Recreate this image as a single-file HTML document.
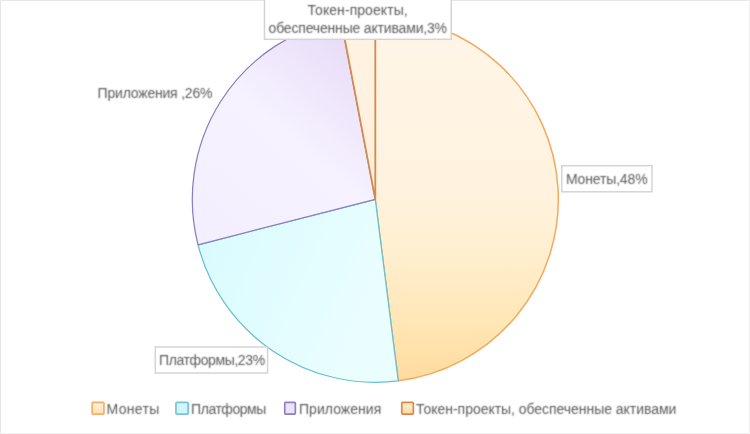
<!DOCTYPE html>
<html>
<head>
<meta charset="utf-8">
<style>
html,body{margin:0;padding:0;background:#fff;}
body{width:750px;height:434px;overflow:hidden;position:relative;}
svg{position:absolute;left:0;top:0;display:block;will-change:transform;}
text{font-family:"Liberation Sans", sans-serif;font-size:14px;fill:#5c5c5c;}
</style>
</head>
<body>
<svg width="750" height="434" viewBox="0 0 750 434">
<defs>
<filter id="tb" x="-5%" y="-30%" width="110%" height="160%"><feConvolveMatrix order="3" kernelMatrix="1 2 1 2 8 2 1 2 1" divisor="20" preserveAlpha="false"/></filter>
<linearGradient id="gM" x1="0" y1="0" x2="0" y2="1">
<stop offset="0" stop-color="#fff6e8"/>
<stop offset="0.48" stop-color="#fff3df"/>
<stop offset="0.65" stop-color="#ffefcf"/>
<stop offset="0.85" stop-color="#ffe6b5"/>
<stop offset="1" stop-color="#ffdb9e"/>
</linearGradient>
<linearGradient id="gP" x1="0" y1="0" x2="1" y2="0.4">
<stop offset="0" stop-color="#d8fbfe"/>
<stop offset="1" stop-color="#ebfeff"/>
</linearGradient>
<linearGradient id="gA" x1="0.85" y1="0" x2="0.15" y2="1">
<stop offset="0" stop-color="#e6d9f7"/>
<stop offset="0.5" stop-color="#f6f2ff"/>
<stop offset="1" stop-color="#f3effe"/>
</linearGradient>
<linearGradient id="gT" x1="0" y1="0" x2="0" y2="1">
<stop offset="0" stop-color="#fff3e3"/>
<stop offset="1" stop-color="#ffefdc"/>
</linearGradient>
<linearGradient id="lM" x1="0" y1="0" x2="0" y2="1">
<stop offset="0" stop-color="#fff2e0"/>
<stop offset="1" stop-color="#ffdfae"/>
</linearGradient>
<linearGradient id="lT" x1="0" y1="0" x2="0" y2="1">
<stop offset="0" stop-color="#ffeed6"/>
<stop offset="1" stop-color="#ffd9a6"/>
</linearGradient>
</defs>
<rect x="0" y="0" width="750" height="434" fill="#fff"/>
<path d="M0.5,434 V0.5 H750" fill="none" stroke="#e6e6e6" stroke-width="1"/>
<path d="M749.5,0 V433.5 H0" fill="none" stroke="#f1f1f1" stroke-width="1"/>
<!-- pie: c=(375.3,199.3) r=183 -->
<path d="M375.3,199.3 L375.3,16.3 A183,183 0 0 1 398.24,380.86 Z" fill="url(#gM)" stroke="#f5a95e" stroke-width="1.5" stroke-linejoin="round"/>
<path d="M375.3,199.3 L398.24,380.86 A183,183 0 0 1 198.05,244.81 Z" fill="url(#gP)" stroke="#68bfd0" stroke-width="1.25" stroke-linejoin="round"/>
<path d="M375.3,199.3 L198.05,244.81 A183,183 0 0 1 341.01,19.54 Z" fill="url(#gA)" stroke="#8a7fbb" stroke-width="1.25" stroke-linejoin="round"/>
<path d="M375.3,199.3 L341.01,19.54 A183,183 0 0 1 375.3,16.3 Z" fill="url(#gT)" stroke="#d38c4e" stroke-width="1.8" stroke-linejoin="round"/>

<!-- token label box -->
<rect x="264.5" y="-5" width="186.7" height="44.3" fill="#fff" stroke="#d5d3d7" stroke-width="1.5"/>
<text filter="url(#tb)" x="357.6" y="14.7" text-anchor="middle" textLength="100.1">Токен-проекты,</text>
<text filter="url(#tb)" x="357.8" y="32.6" text-anchor="middle" textLength="178.5">обеспеченные активами,3%</text>

<!-- Монеты label -->
<rect x="561.8" y="165.7" width="90.2" height="26.1" fill="#fff" stroke="#d5d3d7" stroke-width="1.5"/>
<text filter="url(#tb)" x="565.9" y="183.8" textLength="81.7">Монеты,48%</text>

<!-- Платформы label -->
<rect x="155.3" y="347" width="112.3" height="26" fill="#fff" stroke="#d5d3d7" stroke-width="1.5"/>
<text filter="url(#tb)" x="159.1" y="365" textLength="106">Платформы,23%</text>

<!-- Приложения label -->
<text filter="url(#tb)" x="97.6" y="97.8" textLength="114.9">Приложения ,26%</text>

<!-- legend -->
<rect x="92.15" y="402.45" width="11.8" height="11.6" rx="0.9" fill="url(#lM)" stroke="#f5ae6c" stroke-width="1.7"/>
<text filter="url(#tb)" x="106.5" y="413.8" textLength="52.8">Монеты</text>
<rect x="175.95" y="402.45" width="12.2" height="11.6" rx="0.9" fill="#cff6fb" stroke="#78c4d6" stroke-width="1.7"/>
<text filter="url(#tb)" x="191.1" y="413.8" textLength="75.2">Платформы</text>
<rect x="284.75" y="402.45" width="10.6" height="11.6" rx="0.9" fill="#ece3fb" stroke="#8e80c2" stroke-width="1.7"/>
<text filter="url(#tb)" x="299" y="413.8" textLength="82.3">Приложения</text>
<rect x="401.75" y="402.45" width="11.6" height="11.6" rx="0.9" fill="url(#lT)" stroke="#d98a48" stroke-width="1.7"/>
<text filter="url(#tb)" x="416.1" y="413.8" textLength="260.3">Токен-проекты, обеспеченные активами</text>
</svg>
</body>
</html>
